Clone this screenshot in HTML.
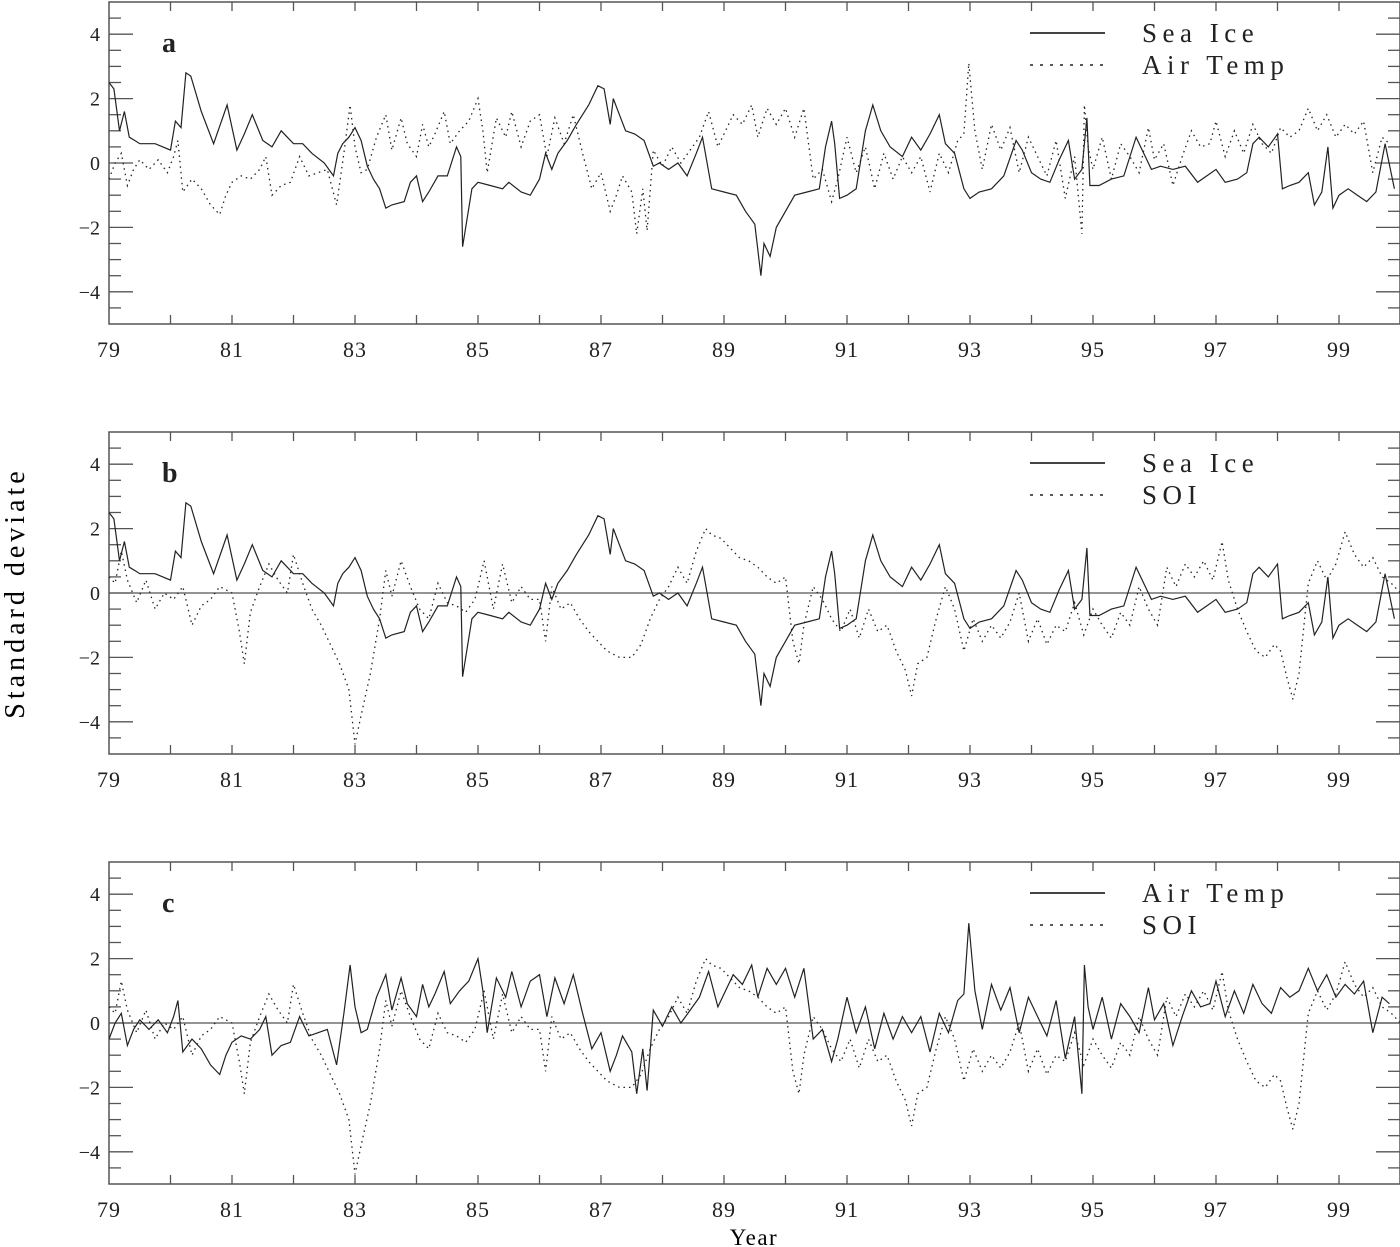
<!DOCTYPE html>
<html><head><meta charset="utf-8">
<style>
html,body{margin:0;padding:0;background:#fff;}
svg{display:block;font-family:"Liberation Serif",serif;}
</style></head>
<body>
<svg id="chart" width="1400" height="1247" viewBox="0 0 1400 1247" xmlns="http://www.w3.org/2000/svg">
<text x="0" y="0" transform="translate(24,593) rotate(-90)" text-anchor="middle" font-size="28" letter-spacing="4">Standard deviate</text>
<text x="754" y="1245" text-anchor="middle" font-size="23" letter-spacing="1.5">Year</text>
</svg>
<script>
const xTicks = [79,81,83,85,87,89,91,93,95,97,99];
const yTicks = [4,2,0,-2,-4];
const seaIceT = [79.0,79.08,79.17,79.25,79.33,79.42,79.5,79.75,80.0,80.08,80.17,80.25,80.33,80.5,80.7,80.92,81.08,81.2,81.33,81.5,81.65,81.8,82.0,82.15,82.3,82.5,82.65,82.72,82.8,82.9,83.0,83.1,83.2,83.3,83.4,83.5,83.6,83.8,83.9,84.0,84.1,84.2,84.35,84.5,84.65,84.72,84.75,84.9,85.0,85.2,85.4,85.5,85.7,85.85,86.0,86.1,86.2,86.3,86.45,86.6,86.8,86.95,87.05,87.15,87.2,87.3,87.4,87.55,87.7,87.85,87.95,88.1,88.25,88.4,88.55,88.65,88.8,89.0,89.2,89.35,89.5,89.6,89.65,89.75,89.85,90.0,90.15,90.35,90.55,90.65,90.75,90.8,90.88,91.0,91.15,91.3,91.42,91.55,91.7,91.9,92.05,92.2,92.35,92.5,92.6,92.75,92.9,93.0,93.15,93.35,93.55,93.75,93.85,94.0,94.15,94.3,94.45,94.6,94.7,94.82,94.9,94.95,95.1,95.3,95.5,95.7,95.8,95.95,96.1,96.3,96.5,96.7,96.85,97.0,97.15,97.35,97.5,97.6,97.7,97.85,98.0,98.08,98.2,98.35,98.5,98.6,98.72,98.82,98.9,99.0,99.15,99.3,99.45,99.6,99.75,99.9,100.0];
const seaIceV = [2.5,2.3,1.0,1.6,0.8,0.7,0.6,0.6,0.4,1.3,1.1,2.8,2.7,1.6,0.6,1.8,0.4,0.9,1.5,0.7,0.5,1.0,0.6,0.6,0.3,0.0,-0.4,0.3,0.6,0.8,1.1,0.7,-0.1,-0.5,-0.8,-1.4,-1.3,-1.2,-0.6,-0.4,-1.2,-0.9,-0.4,-0.4,0.5,0.2,-2.6,-0.8,-0.6,-0.7,-0.8,-0.6,-0.9,-1.0,-0.5,0.3,-0.2,0.3,0.7,1.2,1.8,2.4,2.3,1.2,2.0,1.5,1.0,0.9,0.7,-0.1,0.0,-0.2,0.0,-0.4,0.3,0.8,-0.8,-0.9,-1.0,-1.5,-1.9,-3.5,-2.5,-2.9,-2.0,-1.5,-1.0,-0.9,-0.8,0.5,1.3,0.6,-1.1,-1.0,-0.8,1.0,1.8,1.0,0.5,0.2,0.8,0.4,0.9,1.5,0.6,0.3,-0.8,-1.1,-0.9,-0.8,-0.4,0.7,0.4,-0.3,-0.5,-0.6,0.1,0.7,-0.5,-0.2,1.4,-0.7,-0.7,-0.5,-0.4,0.8,0.4,-0.2,-0.1,-0.2,-0.1,-0.6,-0.4,-0.2,-0.6,-0.5,-0.3,0.6,0.8,0.5,0.9,-0.8,-0.7,-0.6,-0.3,-1.3,-0.9,0.5,-1.4,-1.0,-0.8,-1.0,-1.2,-0.9,0.6,-0.8];
const airT = [79.0,79.1,79.2,79.3,79.4,79.5,79.65,79.8,79.95,80.05,80.12,80.2,80.35,80.5,80.65,80.8,80.9,81.0,81.15,81.3,81.45,81.55,81.65,81.8,81.95,82.1,82.25,82.4,82.55,82.7,82.82,82.92,83.0,83.1,83.2,83.35,83.5,83.6,83.75,83.85,84.0,84.1,84.2,84.3,84.45,84.55,84.7,84.85,85.0,85.08,85.15,85.3,85.45,85.55,85.7,85.85,86.0,86.12,86.25,86.4,86.55,86.7,86.85,87.0,87.15,87.25,87.35,87.5,87.58,87.68,87.75,87.85,88.0,88.15,88.3,88.45,88.6,88.75,88.9,89.0,89.15,89.3,89.45,89.55,89.7,89.85,90.0,90.15,90.3,90.45,90.6,90.75,90.85,91.0,91.15,91.3,91.45,91.6,91.75,91.9,92.05,92.2,92.35,92.5,92.65,92.8,92.9,92.98,93.08,93.2,93.35,93.5,93.65,93.8,93.95,94.1,94.25,94.4,94.55,94.7,94.82,94.86,94.92,95.0,95.15,95.3,95.45,95.6,95.75,95.9,96.0,96.15,96.3,96.45,96.6,96.75,96.9,97.0,97.15,97.3,97.45,97.6,97.75,97.9,98.05,98.2,98.35,98.5,98.65,98.8,98.95,99.1,99.25,99.4,99.55,99.7,99.82,99.9,100.0];
const airV = [-0.5,0.0,0.3,-0.7,-0.2,0.1,-0.2,0.1,-0.3,0.2,0.7,-0.9,-0.5,-0.8,-1.3,-1.6,-1.0,-0.6,-0.4,-0.5,-0.2,0.2,-1.0,-0.7,-0.6,0.2,-0.4,-0.3,-0.2,-1.3,0.3,1.8,0.5,-0.3,-0.2,0.8,1.5,0.4,1.4,0.6,0.2,1.2,0.5,0.9,1.6,0.6,1.0,1.3,2.0,1.0,-0.3,1.4,0.8,1.6,0.5,1.3,1.5,0.2,1.4,0.6,1.5,0.3,-0.8,-0.3,-1.5,-1.0,-0.4,-0.9,-2.2,-0.8,-2.1,0.4,-0.1,0.5,0.0,0.4,0.8,1.6,0.5,0.9,1.5,1.2,1.8,0.8,1.7,1.2,1.7,0.8,1.7,-0.5,-0.2,-1.2,-0.5,0.8,-0.3,0.5,-0.8,0.3,-0.5,0.2,-0.3,0.2,-0.9,0.3,-0.3,0.7,0.9,3.1,1.0,-0.2,1.2,0.4,1.1,-0.3,0.8,0.2,-0.4,0.7,-1.1,0.2,-2.2,1.8,0.5,-0.2,0.8,-0.5,0.6,0.2,-0.3,1.1,0.1,0.6,-0.7,0.2,1.0,0.5,0.6,1.3,0.2,1.0,0.3,1.2,0.6,0.3,1.1,0.8,1.0,1.7,1.0,1.5,0.8,1.2,0.9,1.3,-0.3,0.8,0.6];
const soiT = [79.0,79.1,79.2,79.3,79.45,79.6,79.75,79.9,80.05,80.2,80.35,80.5,80.65,80.8,81.0,81.12,81.2,81.3,81.45,81.6,81.75,81.9,82.0,82.15,82.3,82.45,82.6,82.75,82.9,83.0,83.1,83.25,83.4,83.5,83.6,83.75,83.9,84.05,84.2,84.35,84.5,84.65,84.8,84.95,85.1,85.25,85.4,85.55,85.7,85.85,86.0,86.1,86.2,86.35,86.5,86.65,86.8,86.95,87.1,87.3,87.5,87.65,87.8,87.95,88.1,88.25,88.4,88.55,88.7,88.8,88.95,89.1,89.25,89.4,89.55,89.7,89.85,90.0,90.12,90.22,90.3,90.45,90.6,90.75,90.9,91.05,91.2,91.35,91.5,91.65,91.8,91.95,92.05,92.15,92.3,92.45,92.6,92.75,92.9,93.05,93.2,93.35,93.5,93.65,93.8,93.95,94.1,94.25,94.4,94.55,94.7,94.85,95.0,95.15,95.3,95.45,95.6,95.75,95.9,96.05,96.2,96.35,96.5,96.65,96.8,96.95,97.1,97.2,97.35,97.5,97.65,97.8,97.95,98.05,98.15,98.25,98.35,98.5,98.65,98.8,98.95,99.1,99.25,99.4,99.55,99.7,99.85,100.0];
const soiV = [0.5,0.3,1.3,0.4,-0.3,0.4,-0.5,0.0,-0.2,0.2,-1.0,-0.4,-0.2,0.2,0.0,-1.2,-2.2,-0.6,0.2,0.9,0.4,0.0,1.2,0.3,-0.5,-1.0,-1.6,-2.2,-3.0,-4.7,-3.8,-2.5,-0.8,0.7,-0.1,1.0,0.2,-0.5,-0.8,0.3,-0.3,-0.4,-0.6,-0.2,1.0,-0.5,0.9,-0.3,0.2,-0.2,-0.2,-1.5,0.2,-0.5,-0.3,-0.8,-1.2,-1.5,-1.8,-2.0,-2.0,-1.6,-0.8,-0.2,0.2,0.8,0.3,1.3,2.0,1.8,1.7,1.4,1.1,1.0,0.8,0.5,0.3,0.5,-1.5,-2.2,-1.0,0.2,-0.2,-0.8,-1.2,-0.5,-1.4,-0.5,-1.2,-1.0,-1.8,-2.4,-3.2,-2.2,-2.0,-0.8,0.2,-0.5,-1.8,-0.8,-1.5,-1.0,-1.4,-0.9,0.0,-1.5,-0.8,-1.6,-1.0,-1.2,-0.3,-1.3,-0.5,-1.0,-1.4,-0.6,-1.0,0.2,-0.5,-1.0,0.8,0.2,0.9,0.5,1.0,0.4,1.6,0.4,-0.5,-1.2,-1.8,-2.0,-1.6,-1.8,-2.6,-3.3,-2.5,0.3,1.0,0.4,0.9,1.9,1.2,0.8,1.1,0.5,0.3,0.0];

const NS = "http://www.w3.org/2000/svg";
const svg = document.getElementById('chart');
const X0 = 109, XPER = 61.5;
function xs(t){ return X0 + (t - 79) * XPER; }
function mk(tag, attrs, parent){
  const e = document.createElementNS(NS, tag);
  for (const k in attrs) e.setAttribute(k, attrs[k]);
  (parent || svg).appendChild(e);
  return e;
}
const panels = [
  {id:'a', top:2, label:'a', solidT:seaIceT, solidV:seaIceV, dotT:airT, dotV:airV, leg1:'Sea Ice', leg2:'Air Temp', zero:false},
  {id:'b', top:432, label:'b', solidT:seaIceT, solidV:seaIceV, dotT:soiT, dotV:soiV, leg1:'Sea Ice', leg2:'SOI', zero:true},
  {id:'c', top:862, label:'c', solidT:airT, solidV:airV, dotT:soiT, dotV:soiV, leg1:'Air Temp', leg2:'SOI', zero:true}
];
panels.forEach(p => {
  const g = mk('g', {});
  
  
  const H = 322, x1 = 109, x2 = 1400, yTop = p.top, yBot = p.top + H;
  const ys = v => yTop + (5 - v) * (H / 10);
  const clipId = 'clip' + p.id;
  const cp = mk('clipPath', {id: clipId}, g);
  mk('rect', {x:x1, y:yTop, width:x2-x1, height:H}, cp);
  const frame = mk('rect', {x:x1, y:yTop, width:x2-x1, height:H, fill:'none', stroke:'#555', 'stroke-width':1.5}, g);
  
  
  for (let v = -4.5; v <= 4.51; v += 0.5) {
    const major = Math.abs(v % 2) < 1e-6;
    const len = major ? 24 : 12;
    mk('line', {x1:x1, x2:x1+len, y1:ys(v), y2:ys(v), stroke:'#555', 'stroke-width':1.3}, g);
    mk('line', {x1:x2-len, x2:x2, y1:ys(v), y2:ys(v), stroke:'#555', 'stroke-width':1.3}, g);
  }
  yTicks.forEach(v => {
    const t = mk('text', {x:100, y:ys(v)+7, 'text-anchor':'end', 'font-size':20, fill:'#222'}, g);
    t.textContent = (v < 0 ? '\u2212' : '') + Math.abs(v);
    
    
  });
  for (let yr = 80; yr < 100; yr++) {
    mk('line', {x1:xs(yr), x2:xs(yr), y1:yBot, y2:yBot-9, stroke:'#555', 'stroke-width':1.3}, g);
    mk('line', {x1:xs(yr), x2:xs(yr), y1:yTop, y2:yTop+9, stroke:'#555', 'stroke-width':1.3}, g);
  }
  xTicks.forEach(yr => {
    const t = mk('text', {x:xs(yr), y:yBot+33, 'text-anchor':'middle', 'font-size':22, 'letter-spacing':'1', fill:'#222'}, g);
    t.textContent = yr;
    
    
  });
  if (p.zero) {
    const z = mk('line', {x1:x1, x2:x2, y1:ys(0), y2:ys(0), stroke:'#555', 'stroke-width':1.3}, g);
    
    
  }
  const pl = (T, V) => T.map((t, i) => xs(t).toFixed(1) + ',' + ys(V[i]).toFixed(1)).join(' ');
  const dl = mk('polyline', {points: pl(p.dotT, p.dotV), fill:'none', stroke:'#222', 'stroke-width':1.3, 'stroke-dasharray':'1.5,4', 'clip-path':'url(#'+clipId+')'}, g);
  
  
  const sl = mk('polyline', {points: pl(p.solidT, p.solidV), fill:'none', stroke:'#222', 'stroke-width':1.2, 'clip-path':'url(#'+clipId+')'}, g);
  
  
  const lab = mk('text', {x:162, y:yTop+50, 'font-size':28, 'font-weight':'bold', fill:'#222'}, g);
  lab.textContent = p.label;
  
  
  const lg = mk('g', {}, g);
  
  
  mk('line', {x1:1030, x2:1105, y1:yTop+31, y2:yTop+31, stroke:'#444', 'stroke-width':2}, lg);
  mk('line', {x1:1030, x2:1105, y1:yTop+63, y2:yTop+63, stroke:'#222', 'stroke-width':1.5, 'stroke-dasharray':'3,7'}, lg);
  const t1 = mk('text', {x:1142, y:yTop+40, 'font-size':27, 'letter-spacing':'5.5', fill:'#222'}, lg);
  t1.textContent = p.leg1;
  
  
  const t2 = mk('text', {x:1142, y:yTop+72, 'font-size':27, 'letter-spacing':'5.5', fill:'#222'}, lg);
  t2.textContent = p.leg2;
  
  
});
</script>
</body></html>
